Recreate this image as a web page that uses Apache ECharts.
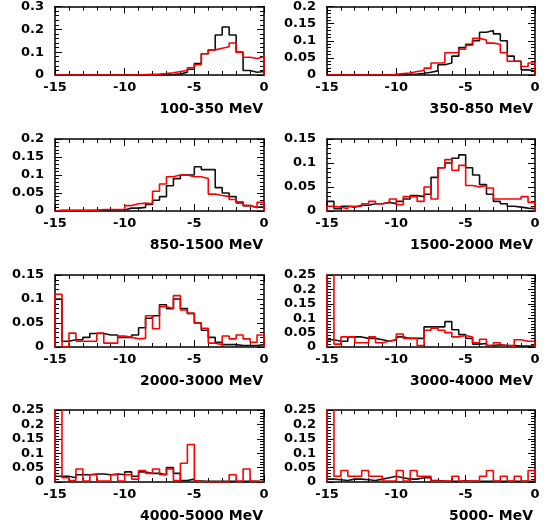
<!DOCTYPE html>
<html>
<head>
<meta charset="utf-8">
<script src="https://cdn.jsdelivr.net/npm/echarts@6/dist/echarts.min.js"></script>
<style>html,body{margin:0;padding:0;background:#fff}#c{width:551px;height:531px}</style>
</head>
<body>
<div id="c"></div>
<script>
// Bins: 30 bins of width 0.5 from -15 to 0
const xMin = -15, binW = 0.5;
const xTicks = [-15, -10, -5, 0];

const titles = ["100-350 MeV", "350-850 MeV", "850-1500 MeV", "1500-2000 MeV",
                "2000-3000 MeV", "3000-4000 MeV", "4000-5000 MeV", "5000- MeV"];
const yMaxes = [0.3, 0.2, 0.2, 0.15, 0.15, 0.25, 0.25, 0.25];
const yIntervals = [0.1, 0.05, 0.05, 0.05, 0.05, 0.05, 0.05, 0.05];

// black histograms
const black1 = [0,0,0,0,0,0,0,0,0,0,0,0,0,0,0,0,0.002,0.005,0.012,0.025,0.05,0.093,0.11,0.175,0.21,0.175,0.1,0.02,0.012,0.015];
const black2 = [0,0,0,0,0,0,0,0,0,0,0.001,0.002,0.003,0.005,0.008,0.012,0.03,0.035,0.055,0.08,0.09,0.1,0.125,0.13,0.12,0.1,0.055,0.04,0.015,0.012];
const black3 = [0.001,0.001,0.001,0.001,0.001,0.002,0.002,0.002,0.003,0.003,0.008,0.008,0.01,0.018,0.03,0.04,0.07,0.09,0.1,0.1,0.123,0.115,0.115,0.065,0.05,0.04,0.025,0.015,0.01,0.012];
const black4 = [0.02,0.005,0.01,0.008,0.012,0.012,0.015,0.015,0.018,0.015,0.02,0.025,0.032,0.03,0.035,0.07,0.09,0.1,0.11,0.117,0.09,0.075,0.055,0.035,0.02,0.015,0.01,0.008,0.006,0.005];
const black5 = [0.1,0.012,0.015,0.015,0.02,0.028,0.028,0.025,0.025,0.02,0.02,0.025,0.04,0.06,0.065,0.088,0.08,0.1,0.08,0.07,0.05,0.035,0.02,0.01,0.005,0.005,0.003,0.003,0.003,0.005];
const black6 = [0.025,0.02,0.02,0.035,0.035,0.03,0.03,0.025,0.02,0.025,0.035,0.03,0.03,0.03,0.07,0.07,0.07,0.088,0.06,0.043,0.03,0.01,0.012,0.005,0.008,0.005,0.005,0.003,0.003,0.003];
const black7 = [0.02,0.02,0.015,0.025,0.025,0.028,0.028,0.025,0.028,0.025,0.035,0.02,0.035,0.03,0.03,0.025,0.05,0.03,0.005,0.01,0.003,0.002,0.002,0.002,0.002,0.002,0.002,0.002,0.002,0.002];
const black8 = [0.01,0.008,0.005,0.01,0.01,0.008,0.005,0.01,0.015,0.02,0.015,0.01,0.01,0.015,0.015,0.005,0.003,0.002,0.002,0.005,0.002,0.002,0.002,0.002,0.002,0.002,0.002,0.002,0.002,0.002];

// red histograms
const red1 = [0,0,0,0,0,0,0,0,0,0,0,0,0.002,0.003,0.004,0.006,0.01,0.015,0.02,0.032,0.045,0.093,0.11,0.117,0.124,0.14,0.1,0.078,0.072,0.08];
const red2 = [0,0,0,0,0,0,0,0,0,0.002,0.004,0.006,0.01,0.013,0.02,0.035,0.035,0.065,0.065,0.075,0.087,0.107,0.102,0.093,0.09,0.065,0.04,0.04,0.025,0.035];
const red3 = [0.002,0.002,0.002,0.002,0.002,0.002,0.004,0.004,0.004,0.004,0.015,0.02,0.022,0.02,0.055,0.075,0.095,0.1,0.1,0.095,0.095,0.09,0.047,0.043,0.04,0.032,0.022,0.015,0.01,0.024];
const red4 = [0.01,0.008,0.005,0.01,0.01,0.015,0.02,0.015,0.018,0.025,0.013,0.03,0.03,0.02,0.05,0.025,0.09,0.107,0.085,0.095,0.053,0.05,0.053,0.048,0.025,0.025,0.025,0.025,0.03,0.018];
const red5 = [0.11,0,0.029,0.012,0.012,0.012,0.029,0.008,0.008,0.023,0.02,0.017,0.018,0.065,0.038,0.084,0.08,0.107,0.077,0.07,0.05,0.039,0.008,0.005,0.023,0.017,0.025,0.017,0.01,0.025];
const red6 = [0.3,0.01,0.035,0.035,0.015,0.015,0.035,0.015,0.02,0.025,0.045,0.03,0.03,0.005,0.058,0.065,0.058,0.05,0.035,0.04,0.035,0.015,0.027,0.005,0.015,0.005,0.003,0.025,0.02,0.02];
const red7 = [0.3,0.015,0.005,0.045,0.003,0.025,0.003,0.003,0.025,0.003,0.025,0.01,0.04,0.03,0.045,0.025,0.045,0.005,0.065,0.13,0.002,0,0,0,0,0.025,0.002,0.045,0.002,0];
const red8 = [0.3,0.02,0.04,0.02,0.02,0.04,0.02,0.02,0.003,0.003,0.04,0.003,0.04,0.02,0.02,0.003,0.003,0.003,0.02,0.003,0.003,0.003,0.02,0.04,0.003,0.02,0.003,0.02,0.003,0.04];

const blacks = [black1, black2, black3, black4, black5, black6, black7, black8];
const reds = [red1, red2, red3, red4, red5, red6, red7, red8];

function histPoints(vals) {
  const pts = [[xMin, 0]];
  vals.forEach((v, i) => pts.push([xMin + i * binW, v]));
  const xEnd = xMin + vals.length * binW;
  pts.push([xEnd, vals[vals.length - 1]]);
  pts.push([xEnd, 0]);
  return pts;
}

const FONT = 'DejaVu Sans';
const rowTop = [4, 139, 275, 410];
const rowH = [71, 72, 72, 72];
const colLeft = [55, 327];
const colW = [209, 208];

const grids = [], xAxes = [], yAxes = [], series = [], titleArr = [];
const lineCommon = { show: true, onZero: false, lineStyle: { color: '#000', width: 1.5 } };
for (let i = 0; i < 8; i++) {
  const r = Math.floor(i / 2), c = i % 2;
  grids.push({ left: colLeft[c], top: rowTop[r], width: colW[c], height: rowH[r] });
  const xBase = {
    type: 'value', gridIndex: i, min: xMin, max: 0, interval: 5,
    axisLine: lineCommon,
    axisTick: { show: true, inside: true, length: 7, lineStyle: { color: '#000', width: 1 } },
    minorTick: { show: true, splitNumber: 5, length: 4, lineStyle: { color: '#000', width: 1 } },
    splitLine: { show: false }, minorSplitLine: { show: false }
  };
  xAxes.push(Object.assign({}, xBase, { position: 'bottom',
    axisLabel: { show: true, fontSize: 13, fontWeight: 'bold', fontFamily: FONT, color: '#000', margin: 6 } }));
  xAxes.push(Object.assign({}, xBase, { position: 'top', axisLabel: { show: false } }));
  const yBase = {
    type: 'value', gridIndex: i, min: 0, max: yMaxes[i], interval: yIntervals[i],
    axisLine: lineCommon,
    axisTick: { show: true, inside: true, length: 7, lineStyle: { color: '#000', width: 1 } },
    minorTick: { show: true, splitNumber: 5, length: 4, lineStyle: { color: '#000', width: 1 } },
    splitLine: { show: false }, minorSplitLine: { show: false }
  };
  yAxes.push(Object.assign({}, yBase, { position: 'left',
    axisLabel: { show: true, fontSize: 13, fontWeight: 'bold', fontFamily: FONT, color: '#000', margin: 11,
      formatter: v => String(+v.toFixed(2)) } }));
  yAxes.push(Object.assign({}, yBase, { position: 'right', axisLabel: { show: false } }));

  series.push({ type: 'line', xAxisIndex: 2 * i, yAxisIndex: 2 * i, data: histPoints(blacks[i]),
    step: 'end', showSymbol: false, clip: true, lineStyle: { color: '#111', width: 1.6 }, z: 3 });
  series.push({ type: 'line', xAxisIndex: 2 * i, yAxisIndex: 2 * i, data: histPoints(reds[i]),
    step: 'end', showSymbol: false, clip: true, lineStyle: { color: '#ff0000', width: 1.6 }, z: 4 });

  titleArr.push({ text: titles[i], right: c === 0 ? 288 : 18, top: rowTop[r] + rowH[r] + 27, padding: 0,
    textStyle: { fontSize: 14, fontWeight: 'bold', fontFamily: FONT, color: '#000' } });
}

const chart = echarts.init(document.getElementById('c'), null, { renderer: 'canvas' });
chart.setOption({
  animation: false,
  backgroundColor: '#fff',
  title: titleArr,
  grid: grids,
  xAxis: xAxes,
  yAxis: yAxes,
  series: series
});
</script>
</body>
</html>
